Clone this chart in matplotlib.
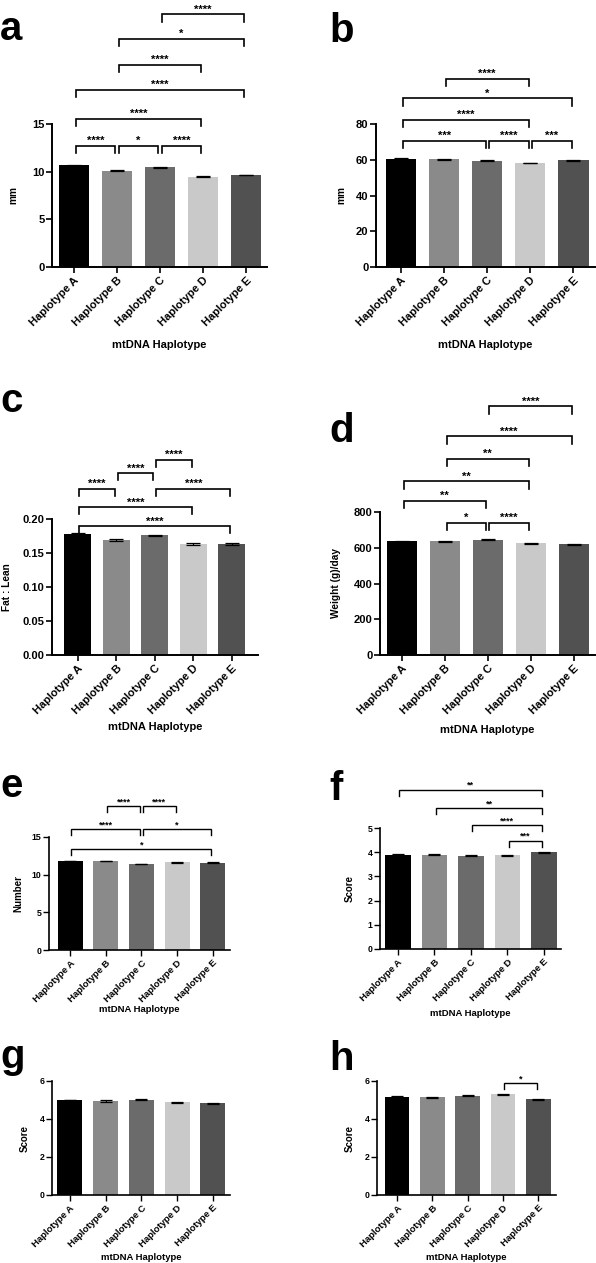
import matplotlib
matplotlib.use('Agg')
import matplotlib.pyplot as plt

plt.rcParams['font.family'] = ['Liberation Sans', 'DejaVu Sans']
plt.rcParams['font.weight'] = 'bold'

haplotypes = ['Haplotype A', 'Haplotype B', 'Haplotype C', 'Haplotype D', 'Haplotype E']
bar_colors = ['#000000', '#8a8a8a', '#6b6b6b', '#c9c9c9', '#515151']

# a - mm
a_vals = [10.65, 10.1, 10.45, 9.45, 9.65]
a_err = [0.04, 0.06, 0.06, 0.06, 0.05]
a_pairs = [(0, 1), (1, 2), (2, 3), (0, 3), (0, 4), (1, 3), (1, 4), (2, 4)]
a_stars = ['****', '*', '****', '****', '****', '****', '*', '****']
a_levels = [12.7, 12.7, 12.7, 15.5, 18.6, 21.2, 23.9, 26.5]

# b - mm
b_vals = [60.5, 60.3, 59.5, 58.2, 59.6]
b_err = [0.2, 0.25, 0.25, 0.25, 0.2]
b_pairs = [(0, 2), (2, 3), (3, 4), (0, 3), (0, 4), (1, 3)]
b_stars = ['***', '****', '***', '****', '*', '****']
b_levels = [70.6, 70.6, 70.6, 82.5, 94.3, 105.0]

# c - fat : lean
c_vals = [0.178, 0.169, 0.176, 0.163, 0.163]
c_err = [0.0008, 0.001, 0.001, 0.001, 0.001]
c_pairs = [(0, 4), (0, 3), (0, 1), (2, 4), (1, 2), (2, 3)]
c_stars = ['****', '****', '****', '****', '****', '****']
c_levels = [0.189, 0.217, 0.244, 0.244, 0.267, 0.287]

# d - weight (g)/day
d_vals = [635, 636, 645, 625, 620]
d_err = [2, 3, 3, 3, 2]
d_pairs = [(1, 2), (2, 3), (0, 2), (0, 3), (1, 3), (1, 4), (2, 4)]
d_stars = ['*', '****', '**', '**', '**', '****', '****']
d_levels = [741, 741, 862, 971, 1096, 1223, 1391]

# e - number
e_vals = [11.85, 11.8, 11.4, 11.65, 11.6]
e_err = [0.03, 0.05, 0.05, 0.05, 0.05]
e_pairs = [(0, 4), (0, 2), (2, 4), (1, 2), (2, 3)]
e_stars = ['*', '****', '*', '****', '****']
e_levels = [13.4, 16.0, 16.0, 19.1, 19.1]

# f - score
f_vals = [3.9, 3.89, 3.85, 3.87, 4.0]
f_err = [0.01, 0.02, 0.02, 0.02, 0.02]
f_pairs = [(3, 4), (2, 4), (1, 4), (0, 4)]
f_stars = ['***', '****', '**', '**']
f_levels = [4.48, 5.12, 5.81, 6.57]

# g - score
g_vals = [5.0, 4.95, 5.02, 4.87, 4.83]
g_err = [0.01, 0.03, 0.03, 0.03, 0.03]

# h - score
h_vals = [5.18, 5.15, 5.22, 5.3, 5.03]
h_err = [0.01, 0.03, 0.02, 0.03, 0.04]
h_pairs = [(3, 4)]
h_stars = ['*']
h_levels = [5.89]

W, H = 596, 1263
fig = plt.figure(figsize=(W / 100, H / 100), dpi=100)


def panel(box, vals, errs, ylabel, ylim, yticks, xlim, letter, letter_xy,
          pairs=(), stars=(), levels=(), small=False, yfmt=None,
          ylab_off=40, xlab_off=75):
    l, t, r, b = box
    ax = fig.add_axes([l / W, 1 - b / H, (r - l) / W, (b - t) / H])
    x = range(len(vals))
    fs_tick = 6.3 if small else 8.0
    fs_xt = 6.8 if small else 8.0
    fs_lab = 6.8 if small else 8.0
    fs_ylab = 7.0 if small else 7.3
    lw = 1.0 if small else 1.2
    ax.bar(x, vals, width=0.7, color=bar_colors, yerr=errs,
           error_kw=dict(ecolor='black', elinewidth=0.8, capsize=4 if small else 5, capthick=0.9))
    ax.set_xlim(*xlim)
    ax.set_ylim(*ylim)
    ax.set_yticks(yticks)
    if yfmt:
        ax.set_yticklabels([yfmt % v for v in yticks])
    ax.set_xticks(list(x))
    ax.set_xticklabels(haplotypes, rotation=45, ha='right', rotation_mode='anchor',
                       fontsize=fs_xt, fontweight='bold')
    ax.tick_params(axis='y', labelsize=fs_tick, width=lw, length=4, pad=1.5)
    ax.tick_params(axis='x', width=lw, length=4, pad=2)
    for s in ['top', 'right']:
        ax.spines[s].set_visible(False)
    for s in ['left', 'bottom']:
        ax.spines[s].set_linewidth(lw + 0.2)
    # label right edge sits ylab_off px left of the y axis
    ax.set_ylabel(ylabel, fontsize=fs_ylab, fontweight='bold')
    ax.yaxis.set_label_coords(-ylab_off / (r - l), 0.5)
    ax.set_xlabel('mtDNA Haplotype', fontsize=fs_lab, fontweight='bold')
    ax.xaxis.set_label_coords(0.5, -xlab_off / (b - t))
    ax.xaxis.label.set_va('center')

    leg = 0.05 * ylim[1]
    for (i, j), st, yv in zip(pairs, stars, levels):
        x0, x1 = i + 0.04, j - 0.04
        ax.plot([x0, x0, x1, x1], [yv - leg, yv, yv, yv - leg], color='black',
                lw=1.0 if small else 1.2, clip_on=False, solid_joinstyle='miter')
        ax.text((x0 + x1) / 2, yv, st, ha='center', va='bottom',
                fontsize=6.5 if small else 8, fontweight='bold', clip_on=False)

    fig.text(letter_xy[0] / W, 1 - letter_xy[1] / H, letter, fontsize=29,
             fontweight='bold', ha='left', va='baseline')
    return ax


panel((52, 124, 267, 267), a_vals, a_err, 'mm', (0, 15), [0, 5, 10, 15], (-0.51, 4.49),
      'a', (0, 40), a_pairs, a_stars, a_levels, ylab_off=34, xlab_off=78)
panel((376, 124, 595, 267), b_vals, b_err, 'mm', (0, 80), [0, 20, 40, 60, 80], (-0.58, 4.5),
      'b', (329, 42), b_pairs, b_stars, b_levels, ylab_off=30, xlab_off=78)
panel((52, 519, 258, 655), c_vals, c_err, 'Fat : Lean', (0, 0.2), [0, 0.05, 0.10, 0.15, 0.20],
      (-0.67, 4.68), 'c', (0, 412), c_pairs, c_stars, c_levels, yfmt='%.2f',
      ylab_off=40, xlab_off=72)
panel((380, 512, 595, 655), d_vals, d_err, 'Weight (g)/day', (0, 800), [0, 200, 400, 600, 800],
      (-0.51, 4.5), 'd', (329, 442), d_pairs, d_stars, d_levels, ylab_off=39, xlab_off=75)
panel((49, 837, 230, 950), e_vals, e_err, 'Number', (0, 15), [0, 5, 10, 15], (-0.59, 4.48),
      'e', (0, 797), e_pairs, e_stars, e_levels, small=True, ylab_off=26, xlab_off=60)
panel((380, 828, 561, 949), f_vals, f_err, 'Score', (0, 5), [0, 1, 2, 3, 4, 5], (-0.49, 4.47),
      'f', (329, 800), f_pairs, f_stars, f_levels, small=True, ylab_off=25, xlab_off=64)
panel((52, 1081, 230, 1195), g_vals, g_err, 'Score', (0, 6), [0, 2, 4, 6], (-0.5, 4.48),
      'g', (0, 1068), small=True, ylab_off=22, xlab_off=62)
panel((377, 1081, 556, 1195), h_vals, h_err, 'Score', (0, 6), [0, 2, 4, 6], (-0.57, 4.5),
      'h', (329, 1070), h_pairs, h_stars, h_levels, small=True, ylab_off=22, xlab_off=62)

fig.savefig('out.png', dpi=100, facecolor='white')
